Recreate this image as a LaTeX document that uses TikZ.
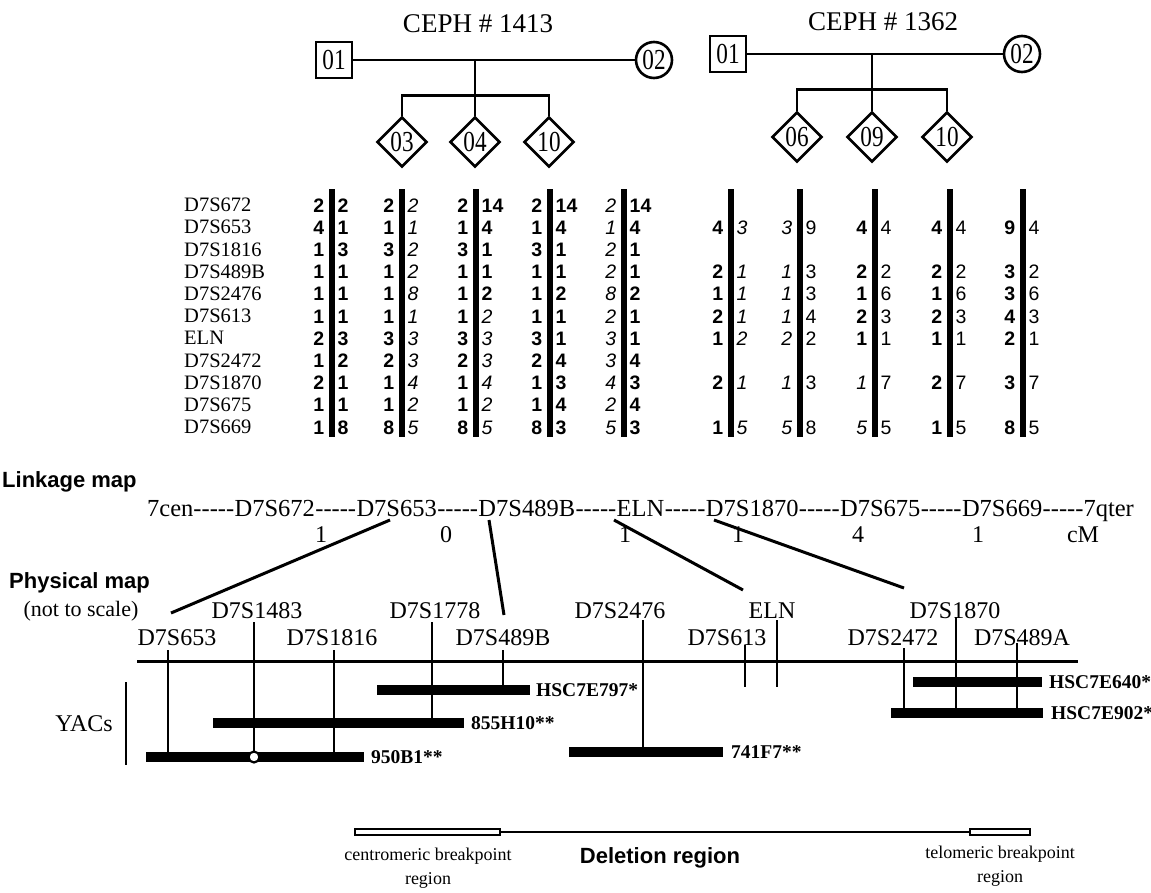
\documentclass[tikz,border=0pt]{standalone}
\usepackage{fontspec}
\usepackage{graphicx}
\setmainfont{Liberation Serif}
\newfontfamily\hvf{Liberation Sans}
\usetikzlibrary{shapes.geometric}
\newcommand{\myfs}[1]{\fontsize{#1}{#1}\selectfont}
\newcommand{\gI}[1]{{\mdseries\itshape #1}}
\newcommand{\gR}[1]{{\mdseries #1}}
\newcommand{\dd}{-{}-{}-{}-{}-}
\newcommand{\cz}[1]{\scalebox{0.8}[1]{#1}}
\newcommand{\gcol}[3]{%
  \draw[gbar] (#2,189) -- (#2,437);
  \foreach \rw/\va/\vb in {#3}{%
    \node[num, anchor=east] (#1L\rw) at (#2-7.5,205+22.2*\rw) {\va};
    \node[num, anchor=west] (#1R\rw) at (#2+5.5,205+22.2*\rw) {\vb};
  }}
\begin{document}
\begin{tikzpicture}[x=1pt,y=-1pt,
  ped/.style={line width=2.6pt},
  person/.style={draw, line width=2.6pt, inner sep=0pt, fill=white, font=\myfs{29}},
  sqp/.style={person, rectangle, minimum size=36pt},
  cip/.style={person, circle, minimum size=36pt},
  dip/.style={person, diamond, minimum size=50pt},
  ttl/.style={font=\myfs{27}, inner sep=0pt},
  num/.style={inner sep=0pt, font=\hvf\bfseries\myfs{19.5}, text height=14pt, text depth=0pt},
  mk/.style={inner sep=0pt, font=\myfs{20.5}, text height=13.5pt, text depth=0pt, anchor=west},
  gbar/.style={line width=5.5pt},
  head/.style={inner sep=0pt, font=\hvf\bfseries\myfs{22}},
  lk/.style={inner sep=0pt, font=\myfs{24.5}, anchor=base west},
  dist/.style={inner sep=0pt, font=\myfs{24}},
  conn/.style={line width=3pt},
  plab/.style={inner sep=0pt, font=\myfs{24}},
  tick/.style={line width=2.4pt},
  yac/.style={line width=10pt},
  ylab/.style={inner sep=0pt, font=\bfseries\myfs{19.5}, anchor=west},
  small/.style={inner sep=0pt, font=\myfs{18}, align=center}
]
\useasboundingbox (0,0) rectangle (1151,892);

% ---------------- pedigree CEPH 1413
\node[ttl] (t1) at (478,24) {CEPH \# 1413};
\node[sqp] (f1) at (334,60) {\cz{01}};
\node[cip] (m1) at (654,60) {\cz{02}};
\coordinate (j1) at (475,60);
\node[dip] (c11) at (402,142) {\cz{03}};
\node[dip] (c12) at (475,142) {\cz{04}};
\node[dip] (c13) at (549,142) {\cz{10}};
\draw[ped] (f1) -- (m1);
\draw[ped] (j1) -- (c12.north);
\draw[ped] (c11.north) -- ++(0,-20) -| (c13.north);

% ---------------- pedigree CEPH 1362
\node[ttl] (t2) at (883,22) {CEPH \# 1362};
\node[sqp] (f2) at (728,54) {\cz{01}};
\node[cip] (m2) at (1022,54) {\cz{02}};
\coordinate (j2) at (872,54);
\node[dip] (c21) at (797,137) {\cz{06}};
\node[dip] (c22) at (872,137) {\cz{09}};
\node[dip] (c23) at (947,137) {\cz{10}};
\draw[ped] (f2) -- (m2);
\draw[ped] (j2) -- (c22.north);
\draw[ped] (c21.north) -- ++(0,-21) -| (c23.north);

% ---------------- marker names
\foreach \i/\t in {0/D7S672,1/D7S653,2/D7S1816,3/D7S489B,4/D7S2476,5/D7S613,6/ELN,7/D7S2472,8/D7S1870,9/D7S675,10/D7S669}{
  \node[mk] (mk\i) at (184,205+22.2*\i) {\t};
}

% ---------------- genotypes family 1413
\gcol{a1}{332}{0/2/2,1/4/1,2/1/3,3/1/1,4/1/1,5/1/1,6/2/3,7/1/2,8/2/1,9/1/1,10/1/8}
\gcol{a2}{402}{0/2/\gI{2},1/1/\gI{1},2/3/\gI{2},3/1/\gI{2},4/1/\gI{8},5/1/\gI{1},6/3/\gI{3},7/2/\gI{3},8/1/\gI{4},9/1/\gI{2},10/8/\gI{5}}
\gcol{a3}{476}{0/2/14,1/1/4,2/3/1,3/1/1,4/1/2,5/1/\gI{2},6/3/\gI{3},7/2/\gI{3},8/1/\gI{4},9/1/\gI{2},10/8/\gI{5}}
\gcol{a4}{550}{0/2/14,1/1/4,2/3/1,3/1/1,4/1/2,5/1/1,6/3/1,7/2/4,8/1/3,9/1/4,10/8/3}
\gcol{a5}{624}{0/\gI{2}/14,1/\gI{1}/4,2/\gI{2}/1,3/\gI{2}/1,4/\gI{8}/2,5/\gI{2}/1,6/\gI{3}/1,7/\gI{3}/4,8/\gI{4}/3,9/\gI{2}/4,10/\gI{5}/3}

% ---------------- genotypes family 1362
\gcol{b1}{731}{1/4/\gI{3},3/2/\gI{1},4/1/\gI{1},5/2/\gI{1},6/1/\gI{2},8/2/\gI{1},10/1/\gI{5}}
\gcol{b2}{800}{1/\gI{3}/\gR{9},3/\gI{1}/\gR{3},4/\gI{1}/\gR{3},5/\gI{1}/\gR{4},6/\gI{2}/\gR{2},8/\gI{1}/\gR{3},10/\gI{5}/\gR{8}}
\gcol{b3}{875}{1/4/\gR{4},3/2/\gR{2},4/1/\gR{6},5/2/\gR{3},6/1/\gR{1},8/\gI{1}/\gR{7},10/\gI{5}/\gR{5}}
\gcol{b4}{950}{1/4/\gR{4},3/2/\gR{2},4/1/\gR{6},5/2/\gR{3},6/1/\gR{1},8/2/\gR{7},10/1/\gR{5}}
\gcol{b5}{1023}{1/9/\gR{4},3/3/\gR{2},4/3/\gR{6},5/4/\gR{3},6/2/\gR{1},8/3/\gR{7},10/8/\gR{5}}

% ---------------- linkage map
\node[head, anchor=west] (lmap) at (2,482) {Linkage map};
\node[lk] (k0) at (147,516) {7cen\dd};
\node[lk] (k1) at (k0.base east) {D7S672};
\node[lk] (k2) at (k1.base east) {\dd};
\node[lk] (k3) at (k2.base east) {D7S653};
\node[lk] (k4) at (k3.base east) {\dd};
\node[lk] (k5) at (k4.base east) {D7S489B};
\node[lk] (k6) at (k5.base east) {\dd};
\node[lk] (k7) at (k6.base east) {ELN};
\node[lk] (k8) at (k7.base east) {\dd};
\node[lk] (k9) at (k8.base east) {D7S1870};
\node[lk] (k10) at (k9.base east) {\dd};
\node[lk] (k11) at (k10.base east) {D7S675};
\node[lk] (k12) at (k11.base east) {\dd};
\node[lk] (k13) at (k12.base east) {D7S669};
\node[lk] (k14) at (k13.base east) {\dd7qter};
\foreach \i/\x/\t in {1/321/1,2/446/0,3/625/1,4/738/1,5/858/4,6/978/1,7/1083/cM}{
  \node[dist] (d\i) at (\x,535) {\t};
}

% ---------------- physical map
\node[head, anchor=west] (pmap) at (9,583) {Physical map};
\node[inner sep=0pt, font=\myfs{22}] (nts) at (81,611) {(not to scale)};
\node[plab] (p653) at (177,638) {D7S653};
\node[plab] (p1483) at (257,611) {D7S1483};
\node[plab] (p1816) at (332,638) {D7S1816};
\node[plab] (p1778) at (435,611) {D7S1778};
\node[plab] (p489B) at (503,638) {D7S489B};
\node[plab] (p2476) at (620,611) {D7S2476};
\node[plab] (pELN) at (772,611) {ELN};
\node[plab] (p613) at (727,638) {D7S613};
\node[plab] (p1870) at (955,611) {D7S1870};
\node[plab] (p2472) at (893,638) {D7S2472};
\node[plab] (p489A) at (1022,638) {D7S489A};

% connectors linkage -> physical
\coordinate (u653) at (390,520);  \coordinate (v653) at (171,613);
\coordinate (u489) at (489,520);  \coordinate (v489) at (504,615);
\coordinate (uELN) at (614,520);  \coordinate (vELN) at (743,590);
\coordinate (u1870) at (714,520); \coordinate (v1870) at (904,588);
\draw[conn] (u653) -- (v653);
\draw[conn] (u489) -- (v489);
\draw[conn] (uELN) -- (vELN);
\draw[conn] (u1870) -- (v1870);

% chromosome line
\draw[line width=3pt] (137,661) -- (1078,661);

% ticks
\draw[tick] (168,650) -- (168,757);
\draw[tick] (254,622) -- (254,757);
\draw[tick] (334,650) -- (334,757);
\draw[tick] (432,622) -- (432,723);
\draw[tick] (503,650) -- (503,690);
\draw[tick] (643,620) -- (643,752);
\draw[tick] (745,645) -- (745,687);
\draw[tick] (777,620) -- (777,687);
\draw[tick] (904,648) -- (904,713);
\draw[tick] (956,617) -- (956,713);
\draw[tick] (1017,643) -- (1017,713);

% YACs
\node[inner sep=0pt, font=\myfs{24}] (yacs) at (84,724) {YACs};
\draw[line width=2.5pt] (126,682) -- (126,765);
\draw[yac] (377,690) -- (530,690);  \node[ylab] (y797) at (536,690) {HSC7E797*};
\draw[yac] (213,723) -- (464,723);  \node[ylab] (y855) at (471,723) {855H10**};
\draw[yac] (146,757) -- (364,757);  \node[ylab] (y950) at (371,757) {950B1**};
\draw[yac] (569,752) -- (723,752);  \node[ylab] (y741) at (731,752) {741F7**};
\draw[yac] (913,682) -- (1042,682); \node[ylab] (y640) at (1049,682) {HSC7E640*};
\draw[yac] (891,713) -- (1043,713); \node[ylab] (y902) at (1051,713) {HSC7E902*};
\draw[line width=2.2pt, fill=white] (254,757) circle (5.5pt);

% ---------------- deletion region
\draw[line width=1.3pt] (500,832) -- (970,832);
\draw[line width=1.3pt] (355,829) rectangle (500,835);
\draw[line width=1.3pt] (970,829) rectangle (1030,835);
\node[small] (cbr) at (428,868) {centromeric breakpoint\\[6pt]region};
\node[head] (delr) at (660,858) {Deletion region};
\node[small] (tbr) at (1000,866) {telomeric breakpoint\\[6pt]region};
\end{tikzpicture}
\end{document}
